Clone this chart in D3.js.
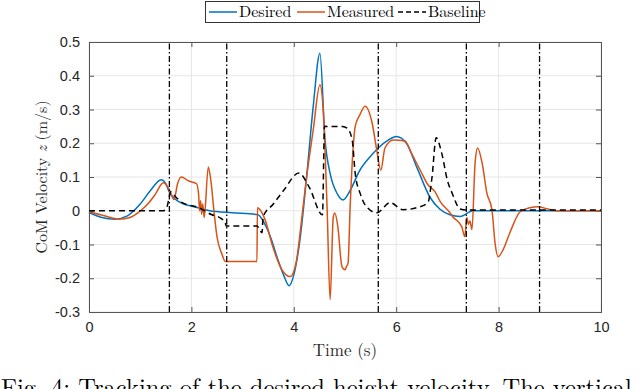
<!DOCTYPE html>
<html>
<head>
<meta charset="utf-8">
<script src="https://cdn.jsdelivr.net/npm/d3@7"></script>
<style>
  body { margin: 0; background: #fff; }
  svg { display: block; }
</style>
</head>
<body>
<script>
var w = 640
var h = 389

// desired height velocity
var desiredT = [0, 0.25, 0.5, 0.75, 1.0, 1.2, 1.41, 1.5, 1.57, 1.68, 1.85, 2.0, 2.36, 2.8, 3.3, 3.4, 3.55, 3.7, 3.8, 3.91, 4.0, 4.12, 4.25, 4.38, 4.51, 4.61, 4.71, 4.85, 4.96, 5.1, 5.29, 5.49, 5.65, 5.85, 6.0, 6.2, 6.4, 6.66, 6.85, 7.05, 7.25, 7.5, 8, 10]
var desiredV = [-0.005, -0.02, -0.025, -0.015, 0.02, 0.06, 0.092, 0.08, 0.055, 0.035, 0.02, 0.014, 0.0, -0.006, -0.012, -0.03, -0.08, -0.15, -0.19, -0.222, -0.19, -0.086, 0.1, 0.31, 0.467, 0.21, 0.11, 0.05, 0.032, 0.06, 0.12, 0.16, 0.186, 0.21, 0.22, 0.2, 0.13, 0.04, 0.005, -0.012, -0.017, 0, 0, 0]

// measured
var measuredT = [0, 0.3, 0.59, 0.8, 0.98, 1.17, 1.3, 1.45, 1.52, 1.57, 1.66, 1.73, 1.8, 1.95, 2.1, 2.14, 2.16, 2.18, 2.2, 2.22, 2.25, 2.33, 2.38, 2.44, 2.5, 2.6, 2.66, 3.28, 3.29, 3.34, 3.44, 3.59, 3.77, 3.93, 4.05, 4.15, 4.25, 4.38, 4.51, 4.57, 4.65, 4.71, 4.77, 4.8, 4.86, 4.94, 5.0, 5.03, 5.06, 5.1, 5.2, 5.29, 5.39, 5.53, 5.62, 5.7, 5.78, 5.94, 6.17, 6.3, 6.47, 6.62, 6.76, 6.86, 7.05, 7.1, 7.28, 7.34, 7.38, 7.41, 7.44, 7.48, 7.54, 7.59, 7.68, 7.77, 7.87, 7.93, 7.99, 8.09, 8.22, 8.42, 8.61, 8.77, 8.94, 9.14, 10]
var measuredV = [-0.002, -0.015, -0.025, -0.02, -0.003, 0.024, 0.05, 0.083, 0.075, 0.062, 0.033, 0.08, 0.1, 0.088, 0.08, 0.05, 0.0, 0.03, -0.01, 0.02, -0.02, 0.13, 0.09, 0.0, -0.077, -0.13, -0.15, -0.15, 0.009, 0.003, -0.027, -0.107, -0.175, -0.195, -0.15, -0.03, 0.1, 0.24, 0.373, 0.31, 0.01, -0.263, -0.02, -0.007, -0.047, -0.165, -0.175, -0.165, -0.155, 0.01, 0.25, 0.284, 0.31, 0.26, 0.18, 0.12, 0.186, 0.21, 0.207, 0.17, 0.12, 0.077, 0.056, 0.027, -0.006, -0.017, -0.047, -0.077, -0.02, -0.04, -0.03, -0.056, 0.14, 0.186, 0.14, 0.053, 0.003, -0.095, -0.136, -0.115, -0.065, -0.003, 0.009, 0.012, 0.006, 0, 0]

// baseline
var baselineT = [0, 1.45, 1.52, 1.6, 1.7, 1.82, 2.15, 2.4, 2.55, 2.66, 2.68, 3.28, 3.38, 3.4, 3.6, 3.8, 4.1, 4.3, 4.56, 4.6, 4.95, 5.04, 5.14, 5.2, 5.3, 5.39, 5.62, 5.88, 6.13, 6.4, 6.62, 6.7, 6.78, 6.89, 7.0, 7.09, 7.25, 7.37, 10]
var baselineV = [0, 0, 0.01, 0.056, 0.04, 0.024, 0.009, -0.012, -0.02, -0.036, -0.045, -0.045, -0.065, -0.018, 0.02, 0.06, 0.112, 0.07, -0.012, 0.25, 0.25, 0.245, 0.21, 0.11, 0.05, 0.018, -0.006, 0.024, 0.003, 0.009, 0.024, 0.1, 0.216, 0.17, 0.09, 0.053, 0.005, 0.002, 0.002]

// vertical markers
var markers = [1.57, 2.69, 5.65, 7.37, 8.8]

var xTicks = [0, 2, 4, 6, 8, 10]
var yTicks = [-0.3, -0.2, -0.1, 0, 0.1, 0.2, 0.3, 0.4, 0.5]

var margin = {top: 42, right: 39, bottom: 77, left: 89}

var x = d3.scaleLinear().domain([0, 10]).range([margin.left, w - margin.right])
var y = d3.scaleLinear().domain([-0.3, 0.5]).range([h - margin.bottom, margin.top])

var svg = d3.select("body").append("svg")
  .attr("width", w)
  .attr("height", h)

// grid
svg.append("g").selectAll("line")
  .data(xTicks)
  .enter().append("line")
  .attr("x1", d => x(d)).attr("x2", d => x(d))
  .attr("y1", y(-0.3)).attr("y2", y(0.5))
  .attr("stroke", "#e6e6e6")
svg.append("g").selectAll("line")
  .data(yTicks)
  .enter().append("line")
  .attr("y1", d => y(d)).attr("y2", d => y(d))
  .attr("x1", x(0)).attr("x2", x(10))
  .attr("stroke", "#e6e6e6")

var fmt = d => d === 0 ? "0" : d.toFixed(1)

// axes (inward ticks, box)
var axisCol = "#555"
var xb = svg.append("g").attr("transform", "translate(0," + y(-0.3) + ")")
  .call(d3.axisBottom(x).tickValues(xTicks).tickSize(-5).tickPadding(10).tickFormat(d3.format("d")))
var xt = svg.append("g").attr("transform", "translate(0," + y(0.5) + ")")
  .call(d3.axisTop(x).tickValues(xTicks).tickSize(-5).tickFormat(""))
var yl = svg.append("g").attr("transform", "translate(" + x(0) + ",0)")
  .call(d3.axisLeft(y).tickValues(yTicks).tickSize(-5).tickPadding(9).tickFormat(fmt))
var yr = svg.append("g").attr("transform", "translate(" + x(10) + ",0)")
  .call(d3.axisRight(y).tickValues(yTicks).tickSize(-5).tickFormat(""))

;[xb, xt, yl, yr].forEach(function(g) {
  g.selectAll("path").attr("stroke", axisCol).attr("stroke-width", 1)
  g.selectAll("line").attr("stroke", axisCol)
  g.selectAll("text")
    .attr("fill", "#262626")
    .style("font-family", "'Liberation Sans', Arial, sans-serif")
    .style("font-size", "14.5px")
})

var line = d3.line()
  .x(d => x(d[0]))
  .y(d => y(d[1]))
  .curve(d3.curveMonotoneX)

svg.append("path")
  .datum(d3.zip(desiredT, desiredV))
  .attr("d", line)
  .attr("fill", "none")
  .attr("stroke", "#0072BD")
  .attr("stroke-width", 1.5)

svg.append("path")
  .datum(d3.zip(measuredT, measuredV))
  .attr("d", line)
  .attr("fill", "none")
  .attr("stroke", "#D95319")
  .attr("stroke-width", 1.5)

svg.append("path")
  .datum(d3.zip(baselineT, baselineV))
  .attr("d", line)
  .attr("fill", "none")
  .attr("stroke", "#000")
  .attr("stroke-width", 1.5)
  .attr("stroke-dasharray", "6,4")

svg.append("g").selectAll("line")
  .data(markers)
  .enter().append("line")
  .attr("x1", d => x(d)).attr("x2", d => x(d))
  .attr("y1", y(-0.3)).attr("y2", y(0.5))
  .attr("stroke", "#000")
  .attr("stroke-width", 1.3)
  .attr("stroke-dasharray", "6,2.5,1.5,2.5")

// axis labels
var serif = "'Latin Modern Roman', 'Liberation Serif', 'DejaVu Serif', serif"
svg.append("text")
  .attr("x", (x(0) + x(10)) / 2)
  .attr("y", 356)
  .attr("text-anchor", "middle")
  .style("font-family", serif)
  .style("font-size", "17px")
  .attr("fill", "#262626")
  .text("Time (s)")

var yt = svg.append("text")
  .attr("transform", "translate(47," + (y(0.1)) + ") rotate(-90)")
  .attr("text-anchor", "middle")
  .style("font-family", serif)
  .style("font-size", "16px")
  .attr("fill", "#262626")
yt.append("tspan").text("CoM Velocity ")
yt.append("tspan").style("font-style", "italic").text("z")
yt.append("tspan").text(" (m/s)")

// legend
var legend = svg.append("g")
legend.append("rect")
  .attr("x", 205.5).attr("y", 1.5)
  .attr("width", 274).attr("height", 21)
  .attr("fill", "#fff")
  .attr("stroke", "#333")
  .attr("stroke-width", 1)

var legItems = [
  {name: "Desired", color: "#0072BD", dash: null, x0: 209},
  {name: "Measured", color: "#D95319", dash: null, x0: 297},
  {name: "Baseline", color: "#000", dash: "5,3", x0: 398}
]
legItems.forEach(function(d) {
  legend.append("line")
    .attr("x1", d.x0).attr("x2", d.x0 + 28)
    .attr("y1", 12).attr("y2", 12)
    .attr("stroke", d.color)
    .attr("stroke-width", 1.5)
    .attr("stroke-dasharray", d.dash)
  legend.append("text")
    .attr("x", d.x0 + 30)
    .attr("y", 17)
    .style("font-family", serif)
    .style("font-size", "16px")
    .attr("fill", "#000")
    .text(d.name)
})

// caption, cut off by the bottom edge
svg.append("text")
  .attr("x", 1)
  .attr("y", 396)
  .style("font-family", serif)
  .style("font-size", "24.5px")
  .attr("fill", "#000")
  .text("Fig. 4: Tracking of the desired height velocity. The vertical")
</script>
</body>
</html>
